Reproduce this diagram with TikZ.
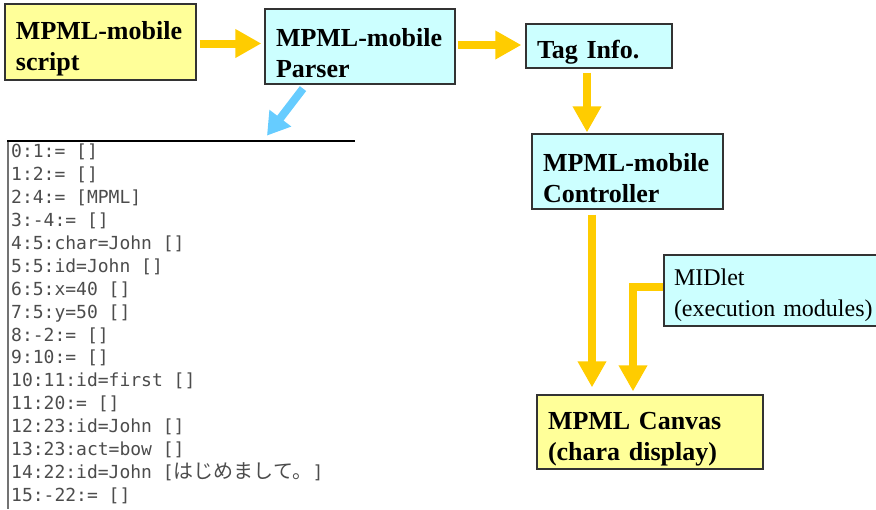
\documentclass[tikz,border=0pt]{standalone}
\usepackage{fontspec}
\setmainfont{Liberation Serif}
\newfontfamily\listfont{DejaVu Sans Mono}
\newfontfamily\cjk{Noto Sans CJK JP}
\usetikzlibrary{arrows.meta}
\definecolor{boxyellow}{HTML}{FFFF99}
\definecolor{boxcyan}{HTML}{CCFFFF}
\definecolor{arrowyellow}{HTML}{FFCC00}
\definecolor{arrowblue}{HTML}{66CCFF}
\tikzset{
  box/.style={draw=black!80, line width=1.2pt, align=left, inner xsep=11pt, inner ysep=0pt, anchor=center},
  boldlbl/.style={font=\fontsize{26}{31}\selectfont\bfseries, execute at begin node={\rule{0pt}{31pt}}},
  plainlbl/.style={font=\fontsize{24}{31}\selectfont, execute at begin node={\rule{0pt}{27pt}}},
  yarrow/.style={draw=arrowyellow, line width=8pt, -{Triangle[width=27pt,length=26pt]}},
  barrow/.style={draw=arrowblue, line width=8pt, -{Triangle[width=26pt,length=22pt]}},
}
\begin{document}
\begin{tikzpicture}[x=1pt,y=-1pt]
\useasboundingbox (0,0) rectangle (876,509);
% boxes
\node[box, boldlbl, fill=boxyellow, minimum width=191pt, minimum height=76pt, text width=169pt] (script) at (100.5,42) {MPML-mobile\\script};
\node[box, boldlbl, fill=boxcyan, minimum width=190pt, minimum height=75pt, text width=168pt] (parser) at (360,46.5) {MPML-mobile\\Parser};
\node[box, boldlbl, fill=boxcyan, minimum width=146pt, minimum height=44pt, text width=124pt] (tag) at (599,46) {Tag Info.};
\node[box, boldlbl, fill=boxcyan, minimum width=191pt, minimum height=75pt, text width=169pt] (ctrl) at (627.5,171.5) {MPML-mobile\\Controller};
\node[box, plainlbl, fill=boxcyan, inner xsep=10pt, minimum width=224pt, minimum height=71pt, text width=204pt] (midlet) at (776,290.5) {MIDlet\\(execution modules)};
\node[box, boldlbl, fill=boxyellow, minimum width=226pt, minimum height=74pt, text width=204pt] (canvas) at (650,432) {MPML Canvas\\(chara display)};
% arrows
\draw[yarrow] ([xshift=3pt,yshift=-1.5pt]script.east) -- ([xshift=-3pt,yshift=-1.5pt]parser.west |- script.east);
\draw[yarrow] ([xshift=2pt,yshift=1.5pt]parser.east) -- ([xshift=-4pt,yshift=1.5pt]tag.west |- parser.east);
\draw[yarrow] ([xshift=-12pt,yshift=-4pt]tag.south) -- ([xshift=-40.5pt,yshift=1pt]ctrl.north);
\draw[yarrow] ([xshift=-35.5pt,yshift=-5pt]ctrl.south) -- ([xshift=-58pt,yshift=7pt]canvas.north);
\draw[yarrow] ([yshift=3.5pt]midlet.west) -| ([xshift=-17pt,yshift=3pt]canvas.north);
\draw[barrow] ([xshift=-57pt,yshift=-4pt]parser.south) -- ([xshift=-93pt,yshift=-51pt]parser.south);
% parsed list
\coordinate (ruleL) at (7,141);
\coordinate (ruleR) at (355,141);
\coordinate (borderB) at (8,509);
\draw[black!55, line width=2pt] (8,142) -- (borderB);
\draw[black, line width=2.5pt] (ruleL) -- (ruleR);
\node[anchor=north west, inner sep=0pt, align=left, text=black!70,
      font=\listfont\fontsize{18}{22.9}\selectfont] (list) at (11,144) {%
0:1:= []\\
1:2:= []\\
2:4:= [MPML]\\
3:-4:= []\\
4:5:char=John []\\
5:5:id=John []\\
6:5:x=40 []\\
7:5:y=50 []\\
8:-2:= []\\
9:10:= []\\
10:11:id=first []\\
11:20:= []\\
12:23:id=John []\\
13:23:act=bow []\\
14:22:id=John [{\cjk\fontsize{20}{22.9}\selectfont はじめまして。}]\\
15:-22:= []};
\end{tikzpicture}
\end{document}
